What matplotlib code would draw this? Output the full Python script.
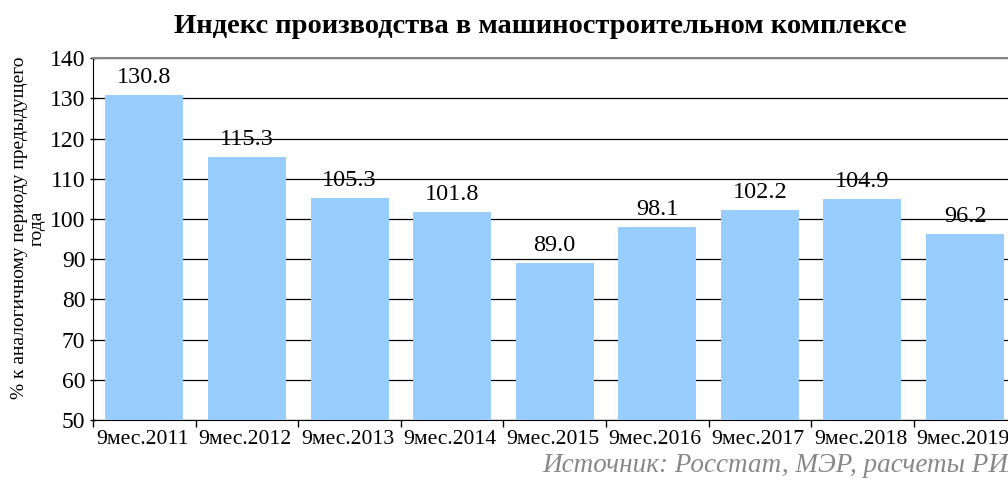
import matplotlib
matplotlib.use("Agg")
import matplotlib.pyplot as plt
import matplotlib.transforms as mtransforms

periods = ["9мес.2011", "9мес.2012", "9мес.2013", "9мес.2014", "9мес.2015",
           "9мес.2016", "9мес.2017", "9мес.2018", "9мес.2019"]
index_values = [130.8, 115.3, 105.3, 101.8, 89.0, 98.1, 102.2, 104.9, 96.2]
y_ticks = [50, 60, 70, 80, 90, 100, 110, 120, 130, 140]

plt.rcParams['font.family'] = ['Liberation Serif', 'DejaVu Serif']

fig = plt.figure(figsize=(10.08, 4.8), dpi=100)
ax = fig.add_axes([0.0923, 0.125, 0.916, 0.754])

x = list(range(len(periods)))
ax.bar(x, index_values, width=0.76, color='#99CCFF', zorder=3)
for xi, v in zip(x, index_values):
    ax.annotate("%.1f" % v, (xi, v), xytext=(0, 5), textcoords='offset points',
                ha='center', va='bottom', fontsize=17.5, zorder=4)

ax.set_xlim(-0.5, len(periods) - 0.5)
ax.set_ylim(50, 140)
ax.set_yticks(y_ticks)
ax.tick_params(axis='y', length=5, direction='inout', labelsize=17, width=1, pad=3)

# category boundaries get tick marks, names sit between them
ax.set_xticks([i - 0.5 for i in range(len(periods) + 1)])
ax.set_xticklabels([])
ax.set_xticks(x, minor=True)
ax.set_xticklabels(periods, minor=True, fontsize=15.6)
ax.tick_params(axis='x', which='minor', length=0, pad=7)
ax.tick_params(axis='x', which='major', length=5, direction='out', width=1)
shift = mtransforms.ScaledTranslation(-2 / 100, 0, fig.dpi_scale_trans)
for lbl in ax.get_xticklabels(minor=True):
    lbl.set_transform(lbl.get_transform() + shift)

ax.yaxis.grid(True, color='black', linewidth=0.9, zorder=0)
ax.spines['top'].set_color('#888888')
ax.spines['top'].set_linewidth(1.5)
ax.spines['right'].set_visible(False)

fig.text(0.028, 0.525, "% к аналогичному периоду предыдущего\nгода",
         rotation=90, ha='center', va='center', multialignment='center',
         fontsize=14, linespacing=1.0)

fig.text(0.536, 0.944, "Индекс производства в машиностроительном комплексе",
         ha='center', va='center', fontsize=20.5, fontweight='bold')
fig.text(0.538, 0.031, "Источник: Росстат, МЭР, расчеты РИА",
         ha='left', va='center', fontsize=19.5, style='italic', color='#888888')

fig.savefig("out.png", dpi=100)
plt.close(fig)
